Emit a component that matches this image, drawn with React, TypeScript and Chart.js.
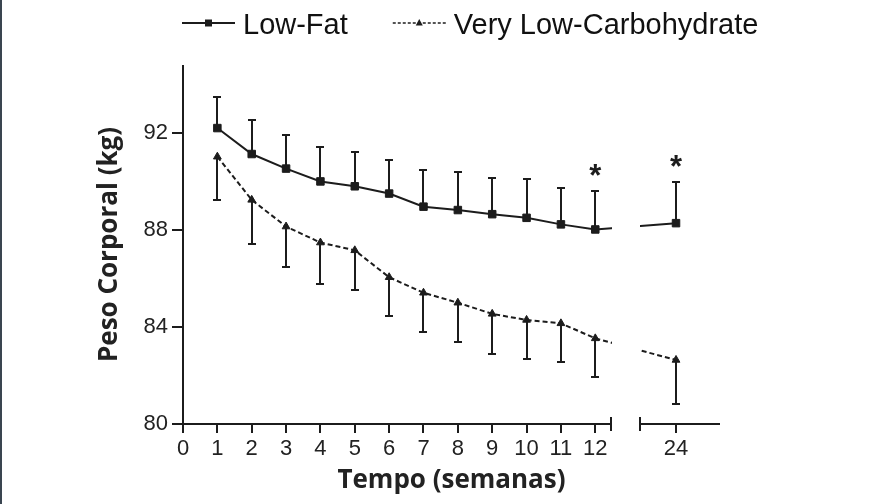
import React, { useEffect, useRef } from 'react';
import { Chart, registerables } from 'chart.js';

Chart.register(...registerables);

// ---------- data ----------
const weeks = [1, 2, 3, 4, 5, 6, 7, 8, 9, 10, 11, 12, 24];
const xTickWeeks = [0, 1, 2, 3, 4, 5, 6, 7, 8, 9, 10, 11, 12, 24];
const yTickValues = [80, 84, 88, 92];
const seriesNames = ['Low-Fat', 'Very Low-Carbohydrate'];
const lowFatMean = [92.2, 91.13, 90.53, 90.0, 89.8, 89.5, 88.96, 88.82, 88.65, 88.5, 88.23, 88.02, 88.28];
const lowFatSE = [1.3, 1.4, 1.4, 1.4, 1.4, 1.4, 1.5, 1.55, 1.5, 1.6, 1.5, 1.6, 1.7];
const vlcMean = [91.02, 89.24, 88.14, 87.48, 87.16, 86.05, 85.41, 85.0, 84.54, 84.29, 84.15, 83.53, 82.64];
const vlcSE = [1.8, 1.8, 1.65, 1.7, 1.65, 1.6, 1.6, 1.6, 1.65, 1.6, 1.6, 1.6, 1.8];
const significantWeeks = [12, 24];
const xTitle = 'Tempo (semanas)';
const yTitle = 'Peso Corporal (kg)';

// ---------- axis-break geometry & style ----------
const LAST_WEEK_BEFORE_BREAK = 12;
const BREAK_START = 12.47;
const BREAK_END = 13.3;
const WEEK24_POS = 14.35;
const X_MAX = 15.63;
const Y_MIN = 80;
const Y_MAX = 94.8;
const INK = '#1c1c1c';

const xPos = (w: number) => (w <= LAST_WEEK_BEFORE_BREAK ? w : WEEK24_POS + (w - 24));

const decorPlugin = {
  id: 'decor',
  afterDatasetsDraw(chart: any) {
    const { ctx, chartArea, scales } = chart;
    const x = scales.x;
    const y = scales.y;
    const bx0 = Math.round(x.getPixelForValue(BREAK_START));
    const bx1 = Math.round(x.getPixelForValue(BREAK_END));
    ctx.save();
    // gap in the lines across the axis break
    ctx.fillStyle = '#ffffff';
    ctx.fillRect(bx0 + 1, chartArea.top, bx1 - bx0 - 1, chartArea.bottom - chartArea.top - 1);

    // error bars
    ctx.strokeStyle = INK;
    ctx.lineWidth = 2;
    chart.data.datasets.forEach((ds: any) => {
      ds.data.forEach((p: any, i: number) => {
        const px = Math.round(x.getPixelForValue(p.x));
        const py0 = y.getPixelForValue(p.y);
        const py1 = Math.round(y.getPixelForValue(p.y + ds.errDir * ds.se[i]));
        ctx.beginPath();
        ctx.moveTo(px, py0);
        ctx.lineTo(px, py1);
        ctx.moveTo(px - 4, py1);
        ctx.lineTo(px + 4, py1);
        ctx.stroke();
      });
    });

    // axes with break
    const y0 = Math.round(y.getPixelForValue(Y_MIN));
    const left = Math.round(chartArea.left);
    ctx.beginPath();
    ctx.moveTo(left, chartArea.top);
    ctx.lineTo(left, y0);
    ctx.moveTo(left - 1, y0);
    ctx.lineTo(bx0, y0);
    ctx.moveTo(bx0, y0 - 7);
    ctx.lineTo(bx0, y0 + 7);
    ctx.moveTo(bx1, y0 - 7);
    ctx.lineTo(bx1, y0 + 7);
    ctx.moveTo(bx1, y0);
    ctx.lineTo(chartArea.right, y0);
    ctx.stroke();

    // significance asterisks above Low-Fat error bars
    ctx.fillStyle = INK;
    ctx.font = 'bold 31px "Liberation Sans"';
    ctx.textAlign = 'center';
    ctx.textBaseline = 'alphabetic';
    significantWeeks.forEach((w) => {
      const i = weeks.indexOf(w);
      const px = x.getPixelForValue(xPos(w));
      const top = y.getPixelForValue(lowFatMean[i] + lowFatSE[i]);
      const cy = top - 21;
      ctx.fillText('*', px, cy + 16);
    });
    ctx.restore();
  },
  afterDraw(chart: any) {
    const { ctx } = chart;
    const LEG_Y = 23;
    const LINE_LEN = 53;
    const TEXT_GAP = 8;
    const ITEM_GAP = 45;
    let cx = 182;
    ctx.save();
    ctx.font = '29px "Liberation Sans"';
    ctx.textBaseline = 'alphabetic';
    ctx.textAlign = 'left';
    chart.data.datasets.forEach((ds: any) => {
      ctx.strokeStyle = INK;
      ctx.fillStyle = INK;
      ctx.lineWidth = ds.borderDash ? 1.5 : 2;
      ctx.setLineDash(ds.borderDash ? [3, 2] : []);
      ctx.beginPath();
      ctx.moveTo(cx, LEG_Y);
      ctx.lineTo(cx + LINE_LEN, LEG_Y);
      ctx.stroke();
      ctx.setLineDash([]);
      const mx = cx + LINE_LEN / 2;
      ctx.beginPath();
      if (ds.pointStyle === 'rect') {
        ctx.rect(mx - 3.5, LEG_Y - 3.5, 7, 7);
      } else {
        ctx.moveTo(mx, LEG_Y - 4);
        ctx.lineTo(mx + 3.5, LEG_Y + 2.5);
        ctx.lineTo(mx - 3.5, LEG_Y + 2.5);
        ctx.closePath();
      }
      ctx.fill();
      ctx.fillStyle = '#111';
      ctx.fillText(ds.label, cx + LINE_LEN + TEXT_GAP, 33.5);
      cx += LINE_LEN + TEXT_GAP + ctx.measureText(ds.label).width + ITEM_GAP;
    });
    ctx.restore();
  },
};

export default function App() {
  const ref = useRef<HTMLCanvasElement>(null);

  useEffect(() => {
    if (!ref.current) return;
    const tickFont = { family: '"Liberation Sans", Arial, sans-serif', size: 22 };
    const titleFont = { family: '"Open Sans", sans-serif', size: 26, weight: 'bold' as const };
    const chart = new Chart(ref.current, {
      type: 'line',
      data: {
        datasets: [
          {
            label: seriesNames[0],
            data: weeks.map((w, i) => ({ x: xPos(w), y: lowFatMean[i] })),
            borderColor: INK,
            backgroundColor: INK,
            borderWidth: 2,
            pointStyle: 'rect',
            pointRadius: 5.3,
            pointBorderWidth: 1,
            tension: 0,
            se: lowFatSE,
            errDir: 1,
          } as any,
          {
            label: seriesNames[1],
            data: weeks.map((w, i) => ({ x: xPos(w), y: vlcMean[i] })),
            borderColor: INK,
            backgroundColor: INK,
            borderWidth: 2,
            borderDash: [5, 3],
            pointStyle: 'triangle',
            pointRadius: 4.5,
            pointBorderWidth: 1,
            tension: 0,
            se: vlcSE,
            errDir: -1,
          } as any,
        ],
      },
      options: {
        animation: false,
        responsive: true,
        maintainAspectRatio: false,
        layout: { padding: { top: 65, left: 0, right: 175, bottom: 0 } },
        plugins: {
          legend: { display: false },
          tooltip: { enabled: false },
        },
        scales: {
          x: {
            type: 'linear',
            min: 0,
            max: X_MAX,
            border: { display: false },
            grid: { drawOnChartArea: false, drawTicks: true, color: INK, lineWidth: 2, tickLength: 9 },
            ticks: {
              autoSkip: false,
              maxRotation: 0,
              minRotation: 0,
              padding: 3,
              color: '#222',
              font: tickFont,
              callback: (v: any) => (v === WEEK24_POS ? '24' : String(v)),
            },
            afterBuildTicks: (s: any) => {
              s.ticks = xTickWeeks.map((w) => ({ value: xPos(w) }));
            },
            afterFit: (s: any) => {
              s.height = 80;
            },
            title: {
              display: true,
              text: xTitle,
              color: '#222',
              font: titleFont,
              padding: { top: 0, bottom: 8 },
            },
          },
          y: {
            type: 'linear',
            min: Y_MIN,
            max: Y_MAX,
            border: { display: false },
            grid: { drawOnChartArea: false, drawTicks: true, color: INK, lineWidth: 2, tickLength: 11 },
            ticks: {
              padding: 4,
              color: '#222',
              font: tickFont,
              callback: (v: any) => String(v),
            },
            afterBuildTicks: (s: any) => {
              s.ticks = yTickValues.map((v) => ({ value: v }));
            },
            afterFit: (s: any) => {
              s.width = 183;
            },
            title: {
              display: true,
              text: yTitle,
              color: '#222',
              font: titleFont,
              padding: { top: 94, bottom: 0 },
            },
          },
        },
      },
      plugins: [decorPlugin],
    });
    return () => chart.destroy();
  }, []);

  return (
    <div style={{ position: 'fixed', left: 0, top: 0, width: 895, height: 504, background: '#ffffff' }}>
      <canvas ref={ref} />
      <div style={{ position: 'absolute', left: 0, top: 0, width: 2, height: 504, background: '#3a4550' }} />
    </div>
  );
}
